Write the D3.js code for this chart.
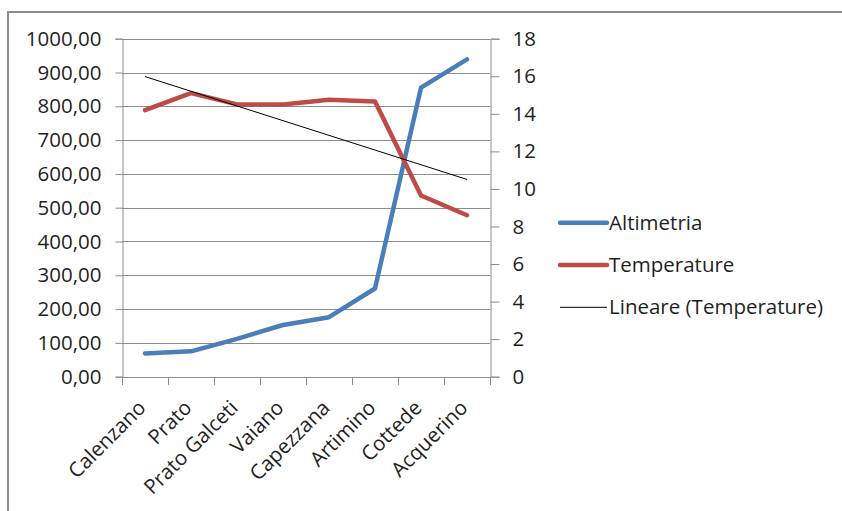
<!DOCTYPE html>
<html>
<head>
<meta charset="utf-8">
<script src="https://cdn.jsdelivr.net/npm/d3@7"></script>
<style>
  html, body { margin: 0; padding: 0; background: #fff; }
  svg { display: block; }
  text { font-family: "Open Sans", sans-serif; fill: #1f1f1f; }
</style>
</head>
<body>
<svg id="chart" width="842" height="511"></svg>
<script>
const categories = ["Calenzano", "Prato", "Prato Galceti", "Vaiano", "Capezzana", "Artimino", "Cottede", "Acquerino"];
const altimetria = [69, 75, 112, 153, 176, 261, 855, 939];
const temperature = [14.2, 15.1, 14.5, 14.5, 14.75, 14.65, 9.65, 8.6];
const leftTicks = [0, 100, 200, 300, 400, 500, 600, 700, 800, 900, 1000];
const rightTicks = [0, 2, 4, 6, 8, 10, 12, 14, 16, 18];
const legendLabels = ["Altimetria", "Temperature", "Lineare (Temperature)"];

const svg = d3.select("#chart");
const m = { left: 122, right: 490, top: 38.7, bottom: 376.7 };
const fontSize = 20.5;
const gridColor = "#8c8c8c";

// outer frame
svg.append("rect").attr("x", 8).attr("y", 12).attr("width", 900).attr("height", 600)
  .attr("fill", "none").attr("stroke", "#8a8a8a").attr("stroke-width", 2);

const x = d3.scaleBand().domain(categories).range([m.left, m.right]).paddingInner(0).paddingOuter(0);
const yL = d3.scaleLinear().domain([0, 1000]).range([m.bottom, m.top]);
const yR = d3.scaleLinear().domain([0, 18]).range([m.bottom, m.top]);
const cx = d => x(d) + x.bandwidth() / 2;

// gridlines
svg.append("g").selectAll("line").data(leftTicks).join("line")
  .attr("x1", m.left).attr("x2", m.right)
  .attr("y1", d => Math.round(yL(d)) + 0.5).attr("y2", d => Math.round(yL(d)) + 0.5)
  .attr("stroke", gridColor).attr("stroke-width", 1);

// left axis
const fmt = d => d3.format(".2f")(d).replace(".", ",");
const gL = svg.append("g").attr("transform", `translate(${m.left + 0.5},0)`)
  .call(d3.axisLeft(yL).tickValues(leftTicks).tickFormat(fmt).tickSize(7).tickPadding(14));
gL.selectAll("text").style("font-size", fontSize + "px").attr("fill", "#1f1f1f");

// right axis
const gR = svg.append("g").attr("transform", `translate(${m.right + 0.5},0)`)
  .call(d3.axisRight(yR).tickValues(rightTicks).tickFormat(d3.format("d")).tickSize(9).tickPadding(13));
gR.selectAll("text").style("font-size", fontSize + "px").attr("fill", "#1f1f1f");

// bottom axis (ticks at category boundaries)
const bounds = categories.map(c => x(c)).concat([m.right]);
const gB = svg.append("g");
gB.append("line").attr("x1", m.left).attr("x2", m.right)
  .attr("y1", Math.round(m.bottom) + 0.5).attr("y2", Math.round(m.bottom) + 0.5).attr("stroke", gridColor);
gB.selectAll("line.tk").data(bounds).join("line").attr("class", "tk")
  .attr("x1", d => Math.round(d) + 0.5).attr("x2", d => Math.round(d) + 0.5)
  .attr("y1", Math.round(m.bottom)).attr("y2", Math.round(m.bottom) + 8).attr("stroke", gridColor);
gB.selectAll("text").data(categories).join("text")
  .attr("transform", d => `translate(${cx(d) - 3},${404}) rotate(-45)`)
  .attr("text-anchor", "end").attr("dy", "0.35em")
  .style("font-size", fontSize + "px").text(d => d);

[gL, gR].forEach(g => { g.select(".domain").attr("stroke", gridColor); g.selectAll(".tick line").attr("stroke", gridColor); });

// trend line (least squares on temperature)
const n = temperature.length;
const xs = d3.range(1, n + 1);
const mx = d3.mean(xs), my = d3.mean(temperature);
const slope = d3.sum(xs, (xi, i) => (xi - mx) * (temperature[i] - my)) / d3.sum(xs, xi => (xi - mx) ** 2);
const icpt = my - slope * mx;
const trend = categories.map((c, i) => [cx(c), yR(icpt + slope * (i + 1))]);

const lineGen = d3.line();
svg.append("path").attr("d", lineGen(categories.map((c, i) => [cx(c), yL(altimetria[i])])))
  .attr("fill", "none").attr("stroke", "#4a7ebb").attr("stroke-width", 4.5).attr("stroke-linejoin", "round").attr("stroke-linecap", "round");
svg.append("path").attr("d", lineGen(categories.map((c, i) => [cx(c), yR(temperature[i])])))
  .attr("fill", "none").attr("stroke", "#be4b48").attr("stroke-width", 4.5).attr("stroke-linejoin", "round").attr("stroke-linecap", "round");
svg.append("path").attr("d", lineGen([trend[0], trend[n - 1]]))
  .attr("fill", "none").attr("stroke", "#000").attr("stroke-width", 1);

// legend
const legColors = ["#4a7ebb", "#be4b48", "#000"];
const legWidths = [4.5, 4.5, 1];
const lg = svg.append("g").selectAll("g").data(legendLabels).join("g")
  .attr("transform", (d, i) => `translate(560,${222.7 + i * 42.3})`);
lg.append("line").attr("x1", 0).attr("x2", 47).attr("y1", 0).attr("y2", 0)
  .attr("stroke", (d, i) => legColors[i]).attr("stroke-width", (d, i) => legWidths[i]).attr("stroke-linecap", (d, i) => i < 2 ? "round" : "butt");
lg.append("text").attr("x", 49).attr("dy", "0.35em").style("font-size", fontSize + "px").text(d => d);
</script>
</body>
</html>
